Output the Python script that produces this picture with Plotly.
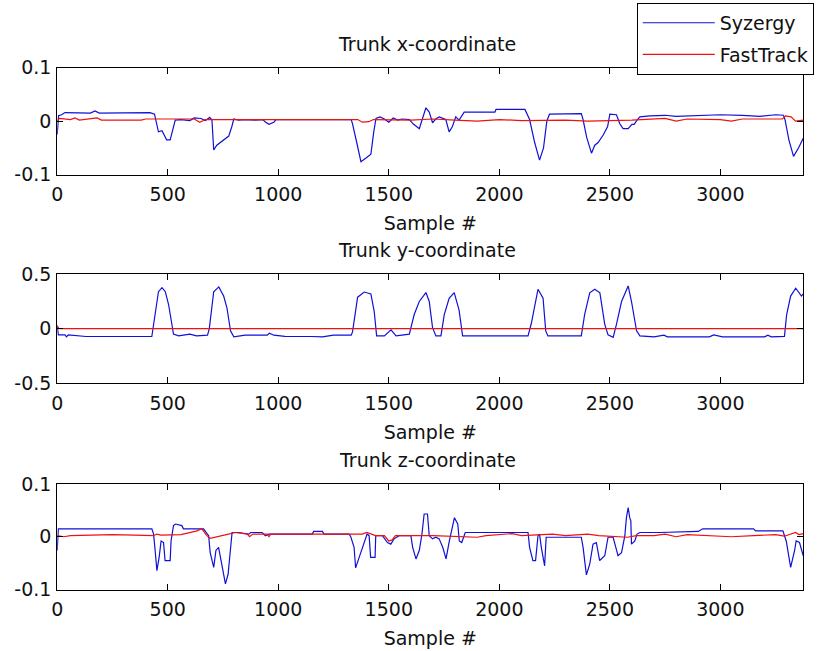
import plotly.graph_objects as go
from plotly.subplots import make_subplots

# ---------------- data ----------------
titles = ["Trunk x-coordinate", "Trunk y-coordinate", "Trunk z-coordinate"]
series_names = ["Syzergy", "FastTrack"]
xtick_vals = [0, 500, 1000, 1500, 2000, 2500, 3000]
xtick_text = ["0", "500", "1000", "1500", "2000", "2500", "3000"]
ytick_vals_small = [-0.1, 0, 0.1]
ytick_text_small = ["-0.1", "0", "0.1"]
ytick_vals_big = [-0.5, 0, 0.5]
ytick_text_big = ["-0.5", "0", "0.5"]

# Trunk x - Syzergy
sx_t = [0, 6, 20, 35, 150, 171, 190, 420, 440, 450, 458, 474, 482, 495, 511, 525, 534, 560, 600, 620, 650, 670, 690, 700,
        708, 722, 738, 746, 761, 776, 790, 799, 820, 850, 897, 930, 943, 958, 980, 990, 1330, 1336, 1355, 1374, 1400,
        1419, 1432, 1442, 1460, 1480, 1500, 1520, 1540, 1560, 1593, 1610, 1638, 1655, 1668, 1683, 1698, 1715, 1728,
        1758, 1773, 1788, 1803, 1818, 1841, 1980, 1985, 2116, 2137, 2160, 2182, 2200, 2215, 2227, 2371, 2379, 2395,
        2417, 2432, 2447, 2470, 2490, 2500, 2530, 2545, 2560, 2583, 2600, 2610, 2625, 2636, 2681, 2750, 2800, 2900,
        3000, 3100, 3180, 3250, 3286, 3293, 3310, 3331, 3354, 3375]
sx_v = [-0.025, 0.01, 0.012, 0.016, 0.015, 0.019, 0.015, 0.016, 0.013, -0.005, -0.02, -0.018, -0.025, -0.035, -0.035,
        -0.01, 0.002, 0.003, 0.001, 0.006, 0.005, 0.001, 0.007, 0.002, -0.054, -0.045, -0.04, -0.038, -0.032, -0.028,
        -0.01, 0.004, 0.002, 0.003, 0.002, 0.003, -0.002, -0.006, -0.002, 0.003, 0.003, -0.005, -0.04, -0.076, -0.068,
        -0.062, -0.02, 0.005, 0.008, 0.004, -0.002, 0.006, 0.002, 0.004, 0.003, -0.005, -0.014, 0.01, 0.025, 0.017,
        -0.003, 0.005, 0.008, 0.003, -0.02, -0.01, 0.008, 0.002, 0.017, 0.017, 0.022, 0.022, 0.003, -0.04, -0.073,
        -0.05, 0.0, 0.013, 0.014, 0.003, -0.03, -0.06, -0.045, -0.04, -0.026, -0.01, 0.013, 0.012, -0.005, -0.014,
        -0.014, -0.006, -0.006, 0.003, 0.008, 0.01, 0.011, 0.009, 0.011, 0.012, 0.011, 0.009, 0.012, 0.011, 0.002,
        -0.035, -0.066, -0.05, -0.032]
# Trunk x - FastTrack
fx_t = [0, 10, 60, 80, 100, 130, 180, 200, 380, 400, 620, 645, 670, 1360, 1380, 1410, 1430, 1600, 1700, 1800, 1900,
        2000, 2100, 2300, 2400, 2600, 2750, 2800, 2850, 3000, 3050, 3100, 3280, 3295, 3320, 3340, 3375]
fx_v = [0.0, 0.005, 0.003, 0.006, 0.002, 0.004, 0.006, 0.002, 0.002, 0.004, 0.004, -0.002, 0.003, 0.003, -0.002,
        -0.001, 0.003, 0.002, 0.004, 0.002, 0.0, 0.003, 0.001, 0.002, 0.0, 0.002, 0.005, 0.0, 0.004, 0.003, 0.0,
        0.004, 0.004, 0.01, 0.008, 0.0, 0.002]

# Trunk y - Syzergy
sy_t = [0, 5, 35, 42, 50, 125, 130, 428, 443, 458, 474, 489, 504, 516, 526, 549, 600, 630, 680, 688, 708, 731, 753,
        768, 784, 799, 850, 950, 960, 980, 1030, 1150, 1200, 1250, 1330, 1336, 1359, 1389, 1419, 1434, 1445, 1480,
        1510, 1533, 1593, 1615, 1638, 1668, 1683, 1698, 1713, 1736, 1751, 1773, 1796, 1818, 1834, 2130, 2145, 2175,
        2198, 2210, 2220, 2371, 2386, 2409, 2432, 2455, 2477, 2492, 2515, 2530, 2553, 2583, 2598, 2621, 2636, 2700,
        2745, 2760, 2950, 2970, 3010, 3200, 3215, 3230, 3290, 3300, 3318, 3341, 3367, 3375]
sy_v = [0.025, -0.057, -0.057, -0.075, -0.057, -0.066, -0.072, -0.072, 0.13, 0.34, 0.378, 0.34, 0.22, 0.07, -0.05,
        -0.066, -0.05, -0.066, -0.06, 0.0, 0.34, 0.384, 0.3, 0.19, -0.02, -0.075, -0.06, -0.06, -0.042, -0.06, -0.07,
        -0.072, -0.075, -0.06, -0.06, -0.03, 0.29, 0.337, 0.32, 0.16, -0.066, -0.066, -0.01, -0.066, -0.05, 0.13,
        0.25, 0.332, 0.25, 0.01, -0.066, -0.066, 0.13, 0.28, 0.332, 0.17, -0.066, -0.066, 0.05, 0.362, 0.28, -0.02,
        -0.066, -0.066, 0.13, 0.33, 0.362, 0.33, 0.04, -0.057, -0.08, 0.04, 0.25, 0.393, 0.25, -0.02, -0.066, -0.075,
        -0.06, -0.075, -0.075, -0.057, -0.075, -0.075, -0.06, -0.075, -0.07, 0.13, 0.3, 0.372, 0.3, 0.32]
# Trunk y - FastTrack
fy_t = [0, 8, 3375]
fy_v = [0.03, 0.0, 0.0]

# Trunk z - Syzergy
sz_t = [0, 5, 428, 436, 443, 451, 461, 470, 481, 488, 511, 515, 526, 535, 564, 571, 632, 662, 685, 692, 708, 718, 730,
        738, 749, 761, 773, 784, 791, 821, 867, 875, 927, 942, 957, 1154, 1160, 1200, 1207, 1320, 1328, 1343, 1350,
        1366, 1388, 1402, 1411, 1418, 1438, 1441, 1471, 1494, 1509, 1524, 1547, 1600, 1608, 1623, 1638, 1650, 1660,
        1675, 1683, 1698, 1713, 1728, 1744, 1759, 1774, 1789, 1797, 1812, 1819, 1830, 1846, 2130, 2137, 2152, 2164,
        2175, 2182, 2190, 2205, 2212, 2371, 2379, 2394, 2409, 2424, 2439, 2454, 2477, 2492, 2515, 2522, 2537, 2553,
        2568, 2575, 2583, 2590, 2595, 2598, 2613, 2623, 2636, 2727, 2900, 2920, 3150, 3160, 3283, 3298, 3318, 3336,
        3343, 3358, 3375]
sz_v = [-0.026, 0.015, 0.015, 0.005, -0.026, -0.064, -0.039, -0.008, -0.011, -0.045, -0.045, -0.008, 0.021, 0.024,
        0.021, 0.015, 0.015, 0.015, 0.002, -0.03, -0.058, -0.026, -0.02, -0.039, -0.061, -0.089, -0.071, -0.02, 0.008,
        0.008, 0.005, 0.008, 0.008, 0.002, 0.005, 0.005, 0.01, 0.01, 0.005, 0.005, 0.0, -0.02, -0.059, -0.039, -0.011,
        0.005, 0.002, -0.039, -0.039, 0.002, 0.002, -0.011, -0.014, -0.004, 0.002, 0.002, -0.02, -0.042, -0.026, 0.005,
        0.043, 0.043, 0.002, -0.004, -0.001, -0.004, -0.02, -0.042, -0.008, 0.018, 0.036, 0.024, -0.008, -0.011, 0.008,
        0.008, -0.02, -0.045, -0.045, 0.002, 0.005, -0.02, -0.055, -0.001, -0.001, -0.02, -0.072, -0.052, -0.014,
        -0.011, -0.045, -0.036, -0.001, -0.001, -0.011, -0.036, -0.03, 0.002, 0.036, 0.055, 0.036, 0.03, -0.014,
        -0.008, 0.005, 0.008, 0.008, 0.01, 0.015, 0.015, 0.011, 0.011, -0.008, -0.058, -0.026, -0.008, -0.011, -0.036]
# Trunk z - FastTrack
fz_t = [0, 30, 60, 150, 250, 350, 436, 450, 470, 560, 632, 654, 677, 692, 730, 775, 805, 860, 870, 885, 950, 958, 966,
        1300, 1380, 1400, 1440, 1480, 1500, 1515, 1530, 1700, 1800, 1900, 1940, 2060, 2100, 2240, 2300, 2400, 2450,
        2580, 2620, 2700, 2750, 2800, 2850, 2950, 3050, 3150, 3250, 3290, 3340, 3355, 3375]
fz_v = [0.002, 0.0, 0.002, 0.003, 0.004, 0.003, 0.002, 0.005, 0.003, 0.004, 0.011, 0.015, 0.002, -0.003, 0.0, 0.005,
        0.008, 0.005, 0.0, 0.005, 0.005, 0.0, 0.005, 0.005, 0.005, 0.008, 0.002, 0.002, -0.008, -0.006, 0.002, 0.002,
        0.0, -0.001, 0.002, 0.006, 0.002, 0.005, 0.002, 0.005, 0.002, -0.001, 0.002, 0.002, 0.005, 0.0, 0.004, 0.002,
        0.0, 0.002, 0.004, 0.001, 0.008, 0.004, 0.006]

# ---------------- figure ----------------
# measured mapping from figure pixels to the photographed window:
#   window_x = SX * (fig_x + OX),  window_y = SY * (fig_y + OY)
SX, OX = 0.99, 8.0
SY, OY = 0.969, 9.4
W, H = 821, 664
BLUE = "#1010d8"
RED = "#f01010"
FONT = "DejaVu Sans"
FS = 19
TXT = "#111111"


def px_x(p):  # window px -> paper x
    return (p / SX - OX) / W


def px_y(p):  # window px (from top) -> paper y
    return 1 - (p / SY - OY) / H


fig = make_subplots(rows=3, cols=1)
data = [(sx_t, sx_v, fx_t, fx_v), (sy_t, sy_v, fy_t, fy_v), (sz_t, sz_v, fz_t, fz_v)]
for i, (st, sv, ft, fv) in enumerate(data, start=1):
    fig.add_trace(go.Scatter(x=st, y=sv, mode="lines", name=series_names[0], line=dict(color=BLUE, width=1.2),
                             showlegend=(i == 1), legendgroup="a"), row=i, col=1)
    fig.add_trace(go.Scatter(x=ft, y=fv, mode="lines", name=series_names[1], line=dict(color=RED, width=1.2),
                             showlegend=(i == 1), legendgroup="b"), row=i, col=1)

# plot-area window pixel boxes (top, bottom) and title centres
boxes = [(66, 173), (273, 382), (483, 589)]
title_y = [42, 249, 459]
x0, x1 = 59, 803
for i, (top, bot) in enumerate(boxes, start=1):
    xa = "xaxis" if i == 1 else f"xaxis{i}"
    ya = "yaxis" if i == 1 else f"yaxis{i}"
    fig.layout[xa].update(
        domain=[px_x(x0), px_x(x1)], range=[0, 3375], tickvals=xtick_vals, ticktext=xtick_text,
        showline=True, linecolor="black", linewidth=1, mirror="ticks", ticks="inside", ticklen=6,
        tickcolor="black", showgrid=False, zeroline=False, ticklabelstandoff=3,
        title=dict(text="Sample #", standoff=12, font=dict(size=FS, color=TXT, family=FONT)),
        tickfont=dict(size=FS, color=TXT, family=FONT),
    )
    if i == 2:
        yv, yt, yr = ytick_vals_big, ytick_text_big, [-0.5, 0.5]
    else:
        yv, yt, yr = ytick_vals_small, ytick_text_small, [-0.1, 0.1]
    fig.layout[ya].update(
        domain=[px_y(bot), px_y(top)], range=yr, tickvals=yv, ticktext=yt,
        showline=True, linecolor="black", linewidth=1, mirror="ticks", ticks="inside", ticklen=6,
        tickcolor="black", showgrid=False, zeroline=False, ticklabelstandoff=1,
        tickfont=dict(size=FS, color=TXT, family=FONT),
    )
    fig.add_annotation(text=titles[i - 1], xref="paper", yref="paper", x=px_x(428), y=px_y(title_y[i - 1]),
                       xanchor="center", yanchor="middle", showarrow=False,
                       font=dict(size=FS, color=TXT, family=FONT))

fig.update_layout(
    width=W, height=H, margin=dict(l=0, r=0, t=0, b=0),
    paper_bgcolor="white", plot_bgcolor="white",
    font=dict(family=FONT, size=FS, color=TXT),
    legend=dict(x=px_x(637), y=px_y(1), xanchor="left", yanchor="top", bgcolor="white",
                bordercolor="black", borderwidth=1, font=dict(size=FS, family=FONT, color=TXT),
                itemwidth=72, tracegroupgap=4),
)
fig.write_html("out.html")
